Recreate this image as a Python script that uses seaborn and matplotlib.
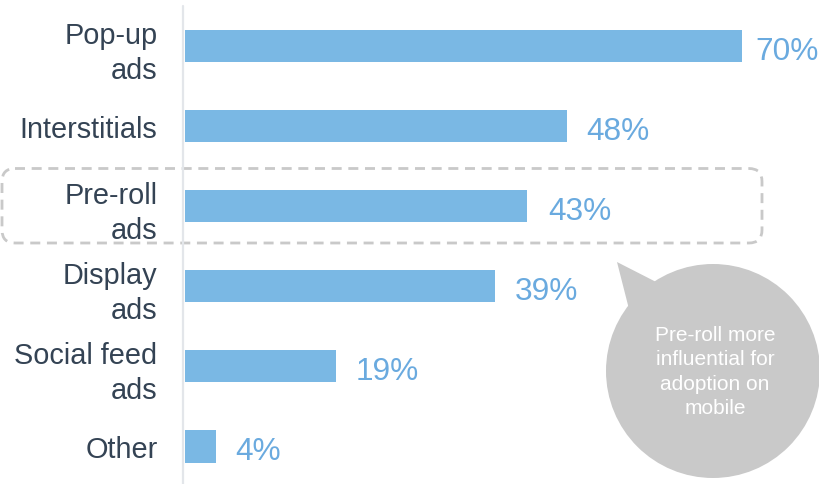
import matplotlib
matplotlib.use("Agg")
import matplotlib.pyplot as plt
from matplotlib.patches import FancyBboxPatch, Circle, Polygon
from matplotlib.lines import Line2D
import seaborn as sns

# Share of respondents per ad format
categories = ["Pop-up\nads", "Interstitials", "Pre-roll\nads", "Display\nads",
              "Social feed\nads", "Other"]
values = [70, 48, 43, 39, 19, 4]
value_labels = [f"{v}%" for v in values]
callout_text = "Pre-roll more\ninfluential for\nadoption on\nmobile"

BAR_COLOR = "#7AB8E4"
VALUE_COLOR = "#6AAADF"
LABEL_COLOR = "#344354"
GRAY = "#C9C9C9"

sns.set_theme(style="white")
plt.rcParams["font.family"] = ["Liberation Sans", "DejaVu Sans"]

W, H = 819, 485
fig = plt.figure(figsize=(W / 100, H / 100), dpi=100)

# Main bar axes, placed in pixel units
x0_px = 184.5
px_per_unit = (742 - x0_px) / 70.0
ax = fig.add_axes([x0_px / W, 0, (W - x0_px) / W, 1])
sns.barplot(x=values, y=categories, orient="h", color=BAR_COLOR,
            saturation=1, width=0.4, linewidth=0, ax=ax)
ax.set_xlim(0, (W - x0_px) / px_per_unit)
row_px = 80.1
ax.set_ylim((H - 47) / row_px, -47 / row_px)
ax.set_xlabel("")
ax.set_ylabel("")
ax.set_xticks([])
for s in ax.spines.values():
    s.set_visible(False)
ax.tick_params(axis="y", length=0, pad=19.5, labelsize=20.8,
               labelcolor=LABEL_COLOR)
for t in ax.get_yticklabels():
    t.set_multialignment("right")
    t.set_linespacing(1.3)
ax.patch.set_alpha(0)

gaps_px = [13, 19, 21, 20, 20, 19]
for i, (v, lab, g) in enumerate(zip(values, value_labels, gaps_px)):
    ax.text(v + g / px_per_unit, i + 12.5 / row_px, lab, color=VALUE_COLOR,
            fontsize=22.8, ha="left", va="baseline")

# Overlay in pixel coordinates for the axis rule, highlight box and callout
ov = fig.add_axes([0, 0, 1, 1], zorder=-1)
ov.set_xlim(0, W)
ov.set_ylim(H, 0)
ov.axis("off")
ov.patch.set_alpha(0)

ov.add_line(Line2D([183, 183], [7, H], color="#E3E6EA", lw=1.6))

box = FancyBboxPatch((2, 169.5), 760, 74.5,
                     boxstyle="round,pad=0,rounding_size=13",
                     fill=False, edgecolor=GRAY, lw=2.0,
                     linestyle=(0, (3.6, 2.4)))
ov.add_patch(box)

ov2 = fig.add_axes([0, 0, 1, 1], zorder=5)
ov2.set_xlim(0, W)
ov2.set_ylim(H, 0)
ov2.axis("off")
ov2.patch.set_alpha(0)
ov2.add_patch(Circle((713, 372), 107, color=GRAY, lw=0))
ov2.add_patch(Polygon([(617, 263), (664, 287), (630, 314)], closed=True,
                      color=GRAY, lw=0))
ov2.text(715, 372, callout_text, color="white", fontsize=15,
         ha="center", va="center", multialignment="center", linespacing=1.35)

fig.savefig("out.png", dpi=100)
